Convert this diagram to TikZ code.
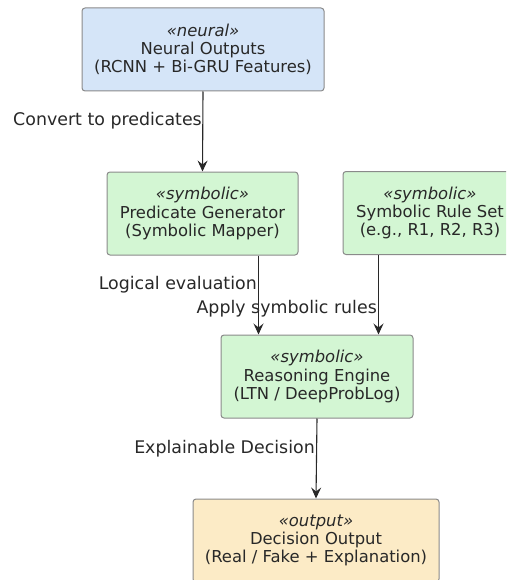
\documentclass[tikz,border=0pt]{standalone}
\usepackage{fontspec}
\setmainfont{DejaVu Sans}
\usetikzlibrary{arrows.meta,calc}

\definecolor{neuralfill}{HTML}{D5E5F8}
\definecolor{symbfill}{HTML}{D3F6D3}
\definecolor{outfill}{HTML}{FCEBC6}
\definecolor{boxline}{HTML}{8A8A8A}
\definecolor{inktext}{HTML}{282828}

\tikzset{
  comp/.style={draw=boxline, line width=1pt, rounded corners=3pt,
    align=center, text=inktext, inner sep=0pt,
    font=\fontsize{16.4}{18.2}\selectfont},
  neuralbox/.style={comp, fill=neuralfill},
  symbbox/.style={comp, fill=symbfill},
  outbox/.style={comp, fill=outfill},
  flow/.style={draw=inktext, line width=1.1pt,
    -{Stealth[length=11pt,width=10pt,inset=4pt]}},
  edgelabel/.style={anchor=base east, inner sep=0pt, text=inktext,
    font=\fontsize{17.4}{20}\selectfont}
}

\newcommand{\stereo}[1]{\textit{«#1»}}

\begin{document}
\begin{tikzpicture}[x=1pt,y=1pt]
  \useasboundingbox (0,0) rectangle (506,-580);
  \clip (0,0) rectangle (506,-580);

  % components
  \node[neuralbox, minimum width=242pt, minimum height=83pt] (neural) at (203,-49.5)
    {\stereo{neural}\\Neural Outputs\\(RCNN + Bi-GRU Features)};
  \node[symbbox, minimum width=191pt, minimum height=83pt] (pred) at (202.5,-213.5)
    {\stereo{symbolic}\\Predicate Generator\\(Symbolic Mapper)};
  \node[symbbox, minimum width=174pt, minimum height=83pt] (rules) at (430,-213)
    {\stereo{symbolic}\\Symbolic Rule Set\\(e.g., R1, R2, R3)};
  \node[symbbox, minimum width=192pt, minimum height=83pt] (reason) at (317,-376.5)
    {\stereo{symbolic}\\Reasoning Engine\\(LTN / DeepProbLog)};
  \node[outbox, minimum width=246pt, minimum height=83pt] (decision) at (316,-540.5)
    {\stereo{output}\\Decision Output\\(Real / Fake + Explanation)};

  % entry points on the reasoning engine
  \coordinate (inL) at ($(reason.north west)+(38,0)$);
  \coordinate (inR) at ($(reason.north east)+(-35,0)$);

  % connectors
  \draw[flow] (neural.south) -- (pred.north);
  \draw[flow] (pred.south -| inL) -- (inL);
  \draw[flow] (rules.south -| inR) -- (inR);
  \draw[flow] (reason.south) -- (decision.north);

  % connector labels
  \node[edgelabel] (lconv) at (202,-126) {Convert to predicates};
  \node[edgelabel] (llog) at (257,-289) {Logical evaluation};
  \node[edgelabel] (lapply) at (377,-313) {Apply symbolic rules};
  \node[edgelabel] (lexpl) at (315,-453) {Explainable Decision};
\end{tikzpicture}
\end{document}
